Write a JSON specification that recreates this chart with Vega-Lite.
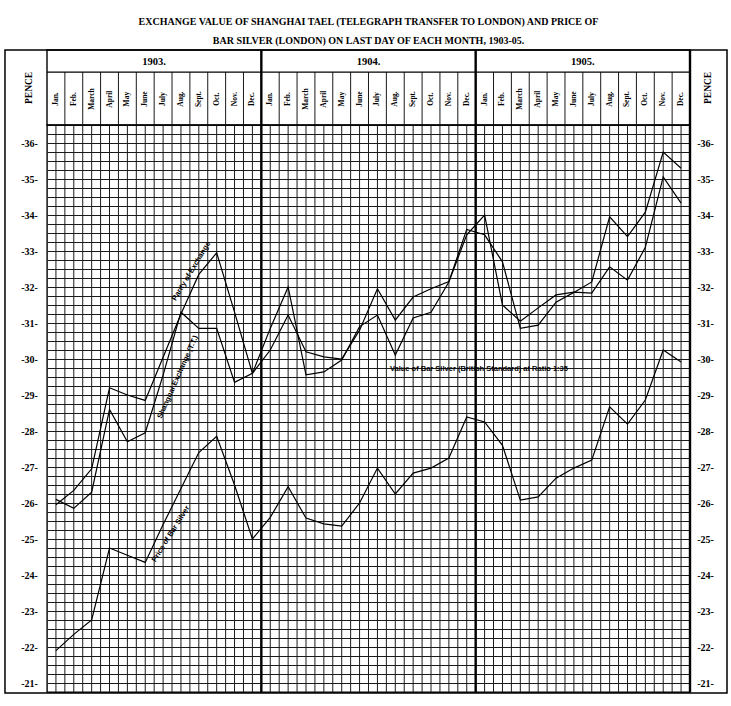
{
  "$schema": "https://vega.github.io/schema/vega-lite/v6.json",
  "width": 643,
  "height": 567,
  "autosize": {"type": "none"},
  "padding": {"left": 47, "top": 125, "right": 41, "bottom": 14},
  "background": "white",
  "config": {"view": {"stroke": "black", "strokeWidth": 1.4}, "text": {"font": "Liberation Serif", "color": "black"}},
  "datasets": {
    "months": [
      {"i": 0, "m": "Jan.", "yr": "1903."}, {"i": 1, "m": "Feb.", "yr": "1903."}, {"i": 2, "m": "March", "yr": "1903."}, {"i": 3, "m": "April", "yr": "1903."}, {"i": 4, "m": "May", "yr": "1903."}, {"i": 5, "m": "June", "yr": "1903."}, {"i": 6, "m": "July", "yr": "1903."}, {"i": 7, "m": "Aug.", "yr": "1903."}, {"i": 8, "m": "Sept.", "yr": "1903."}, {"i": 9, "m": "Oct.", "yr": "1903."}, {"i": 10, "m": "Nov.", "yr": "1903."}, {"i": 11, "m": "Dec.", "yr": "1903."},
      {"i": 12, "m": "Jan.", "yr": "1904."}, {"i": 13, "m": "Feb.", "yr": "1904."}, {"i": 14, "m": "March", "yr": "1904."}, {"i": 15, "m": "April", "yr": "1904."}, {"i": 16, "m": "May", "yr": "1904."}, {"i": 17, "m": "June", "yr": "1904."}, {"i": 18, "m": "July", "yr": "1904."}, {"i": 19, "m": "Aug.", "yr": "1904."}, {"i": 20, "m": "Sept.", "yr": "1904."}, {"i": 21, "m": "Oct.", "yr": "1904."}, {"i": 22, "m": "Nov.", "yr": "1904."}, {"i": 23, "m": "Dec.", "yr": "1904."},
      {"i": 24, "m": "Jan.", "yr": "1905."}, {"i": 25, "m": "Feb.", "yr": "1905."}, {"i": 26, "m": "March", "yr": "1905."}, {"i": 27, "m": "April", "yr": "1905."}, {"i": 28, "m": "May", "yr": "1905."}, {"i": 29, "m": "June", "yr": "1905."}, {"i": 30, "m": "July", "yr": "1905."}, {"i": 31, "m": "Aug.", "yr": "1905."}, {"i": 32, "m": "Sept.", "yr": "1905."}, {"i": 33, "m": "Oct.", "yr": "1905."}, {"i": 34, "m": "Nov.", "yr": "1905."}, {"i": 35, "m": "Dec.", "yr": "1905."}
    ],
    "lines": [
      {"s": "Parity of Exchange", "i": 0, "v": 25.95}, {"s": "Parity of Exchange", "i": 1, "v": 26.35}, {"s": "Parity of Exchange", "i": 2, "v": 26.95}, {"s": "Parity of Exchange", "i": 3, "v": 29.2}, {"s": "Parity of Exchange", "i": 4, "v": 29.0}, {"s": "Parity of Exchange", "i": 5, "v": 28.85}, {"s": "Parity of Exchange", "i": 6, "v": 30.05}, {"s": "Parity of Exchange", "i": 7, "v": 31.25}, {"s": "Parity of Exchange", "i": 8, "v": 32.35}, {"s": "Parity of Exchange", "i": 9, "v": 32.95}, {"s": "Parity of Exchange", "i": 10, "v": 31.3}, {"s": "Parity of Exchange", "i": 11, "v": 29.6},
      {"s": "Parity of Exchange", "i": 12, "v": 30.25}, {"s": "Parity of Exchange", "i": 13, "v": 31.22}, {"s": "Parity of Exchange", "i": 14, "v": 30.2}, {"s": "Parity of Exchange", "i": 15, "v": 30.06}, {"s": "Parity of Exchange", "i": 16, "v": 30.0}, {"s": "Parity of Exchange", "i": 17, "v": 30.8}, {"s": "Parity of Exchange", "i": 18, "v": 31.95}, {"s": "Parity of Exchange", "i": 19, "v": 31.08}, {"s": "Parity of Exchange", "i": 20, "v": 31.72}, {"s": "Parity of Exchange", "i": 21, "v": 31.95}, {"s": "Parity of Exchange", "i": 22, "v": 32.15}, {"s": "Parity of Exchange", "i": 23, "v": 33.6},
      {"s": "Parity of Exchange", "i": 24, "v": 33.45}, {"s": "Parity of Exchange", "i": 25, "v": 32.7}, {"s": "Parity of Exchange", "i": 26, "v": 30.85}, {"s": "Parity of Exchange", "i": 27, "v": 30.94}, {"s": "Parity of Exchange", "i": 28, "v": 31.58}, {"s": "Parity of Exchange", "i": 29, "v": 31.85}, {"s": "Parity of Exchange", "i": 30, "v": 32.14}, {"s": "Parity of Exchange", "i": 31, "v": 33.95}, {"s": "Parity of Exchange", "i": 32, "v": 33.4}, {"s": "Parity of Exchange", "i": 33, "v": 34.08}, {"s": "Parity of Exchange", "i": 34, "v": 35.75}, {"s": "Parity of Exchange", "i": 35, "v": 35.3},
      {"s": "Shanghai Exchange (T.T.)", "i": 0, "v": 26.1}, {"s": "Shanghai Exchange (T.T.)", "i": 1, "v": 25.85}, {"s": "Shanghai Exchange (T.T.)", "i": 2, "v": 26.3}, {"s": "Shanghai Exchange (T.T.)", "i": 3, "v": 28.6}, {"s": "Shanghai Exchange (T.T.)", "i": 4, "v": 27.7}, {"s": "Shanghai Exchange (T.T.)", "i": 5, "v": 27.95}, {"s": "Shanghai Exchange (T.T.)", "i": 6, "v": 29.55}, {"s": "Shanghai Exchange (T.T.)", "i": 7, "v": 31.3}, {"s": "Shanghai Exchange (T.T.)", "i": 8, "v": 30.85}, {"s": "Shanghai Exchange (T.T.)", "i": 9, "v": 30.85}, {"s": "Shanghai Exchange (T.T.)", "i": 10, "v": 29.35}, {"s": "Shanghai Exchange (T.T.)", "i": 11, "v": 29.6},
      {"s": "Shanghai Exchange (T.T.)", "i": 12, "v": 30.85}, {"s": "Shanghai Exchange (T.T.)", "i": 13, "v": 32.0}, {"s": "Shanghai Exchange (T.T.)", "i": 14, "v": 29.56}, {"s": "Shanghai Exchange (T.T.)", "i": 15, "v": 29.64}, {"s": "Shanghai Exchange (T.T.)", "i": 16, "v": 29.97}, {"s": "Shanghai Exchange (T.T.)", "i": 17, "v": 30.9}, {"s": "Shanghai Exchange (T.T.)", "i": 18, "v": 31.22}, {"s": "Shanghai Exchange (T.T.)", "i": 19, "v": 30.11}, {"s": "Shanghai Exchange (T.T.)", "i": 20, "v": 31.14}, {"s": "Shanghai Exchange (T.T.)", "i": 21, "v": 31.3}, {"s": "Shanghai Exchange (T.T.)", "i": 22, "v": 32.14}, {"s": "Shanghai Exchange (T.T.)", "i": 23, "v": 33.45},
      {"s": "Shanghai Exchange (T.T.)", "i": 24, "v": 34.0}, {"s": "Shanghai Exchange (T.T.)", "i": 25, "v": 31.5}, {"s": "Shanghai Exchange (T.T.)", "i": 26, "v": 31.05}, {"s": "Shanghai Exchange (T.T.)", "i": 27, "v": 31.42}, {"s": "Shanghai Exchange (T.T.)", "i": 28, "v": 31.78}, {"s": "Shanghai Exchange (T.T.)", "i": 29, "v": 31.86}, {"s": "Shanghai Exchange (T.T.)", "i": 30, "v": 31.83}, {"s": "Shanghai Exchange (T.T.)", "i": 31, "v": 32.56}, {"s": "Shanghai Exchange (T.T.)", "i": 32, "v": 32.19}, {"s": "Shanghai Exchange (T.T.)", "i": 33, "v": 33.1}, {"s": "Shanghai Exchange (T.T.)", "i": 34, "v": 35.06}, {"s": "Shanghai Exchange (T.T.)", "i": 35, "v": 34.33},
      {"s": "Price of Bar Silver", "i": 0, "v": 21.9}, {"s": "Price of Bar Silver", "i": 1, "v": 22.35}, {"s": "Price of Bar Silver", "i": 2, "v": 22.75}, {"s": "Price of Bar Silver", "i": 3, "v": 24.75}, {"s": "Price of Bar Silver", "i": 4, "v": 24.55}, {"s": "Price of Bar Silver", "i": 5, "v": 24.35}, {"s": "Price of Bar Silver", "i": 6, "v": 25.4}, {"s": "Price of Bar Silver", "i": 7, "v": 26.4}, {"s": "Price of Bar Silver", "i": 8, "v": 27.4}, {"s": "Price of Bar Silver", "i": 9, "v": 27.85}, {"s": "Price of Bar Silver", "i": 10, "v": 26.5}, {"s": "Price of Bar Silver", "i": 11, "v": 25.0},
      {"s": "Price of Bar Silver", "i": 12, "v": 25.6}, {"s": "Price of Bar Silver", "i": 13, "v": 26.45}, {"s": "Price of Bar Silver", "i": 14, "v": 25.58}, {"s": "Price of Bar Silver", "i": 15, "v": 25.42}, {"s": "Price of Bar Silver", "i": 16, "v": 25.36}, {"s": "Price of Bar Silver", "i": 17, "v": 26.0}, {"s": "Price of Bar Silver", "i": 18, "v": 26.97}, {"s": "Price of Bar Silver", "i": 19, "v": 26.25}, {"s": "Price of Bar Silver", "i": 20, "v": 26.83}, {"s": "Price of Bar Silver", "i": 21, "v": 26.97}, {"s": "Price of Bar Silver", "i": 22, "v": 27.25}, {"s": "Price of Bar Silver", "i": 23, "v": 28.39},
      {"s": "Price of Bar Silver", "i": 24, "v": 28.25}, {"s": "Price of Bar Silver", "i": 25, "v": 27.6}, {"s": "Price of Bar Silver", "i": 26, "v": 26.08}, {"s": "Price of Bar Silver", "i": 27, "v": 26.17}, {"s": "Price of Bar Silver", "i": 28, "v": 26.69}, {"s": "Price of Bar Silver", "i": 29, "v": 26.97}, {"s": "Price of Bar Silver", "i": 30, "v": 27.19}, {"s": "Price of Bar Silver", "i": 31, "v": 28.67}, {"s": "Price of Bar Silver", "i": 32, "v": 28.19}, {"s": "Price of Bar Silver", "i": 33, "v": 28.86}, {"s": "Price of Bar Silver", "i": 34, "v": 30.25}, {"s": "Price of Bar Silver", "i": 35, "v": 29.92}
    ]
  },
  "layer": [
    {
      "data": {"name": "months"},
      "mark": {"type": "rule", "color": "#1a1a1a", "strokeWidth": 1},
      "encoding": {
        "x": {"field": "i", "type": "quantitative", "scale": {"domain": [-0.5, 35.5], "nice": false, "zero": false}, "axis": null},
        "y": {"datum": 20.75, "type": "quantitative", "scale": {"domain": [20.75, 36.5], "nice": false, "zero": false}, "axis": null},
        "y2": {"datum": 36.5}
      }
    },
    {
      "data": {"name": "months"},
      "mark": {"type": "rule", "color": "#1a1a1a", "strokeWidth": 1, "xOffset": 8.93},
      "encoding": {
        "x": {"field": "i", "type": "quantitative", "scale": {"domain": [-0.5, 35.5], "nice": false, "zero": false}, "axis": null},
        "y": {"datum": 20.75, "type": "quantitative", "scale": {"domain": [20.75, 36.5], "nice": false, "zero": false}, "axis": null},
        "y2": {"datum": 37.97}
      }
    },
    {
      "data": {"name": "lines"},
      "transform": [{"filter": {"field": "s", "oneOf": ["Parity of Exchange", "Shanghai Exchange (T.T.)"]}}],
      "mark": {"type": "line", "color": "black", "strokeWidth": 1.2},
      "encoding": {
        "x": {"field": "i", "type": "quantitative", "scale": {"domain": [-0.5, 35.5], "nice": false, "zero": false}, "axis": null},
        "y": {"field": "v", "type": "quantitative", "scale": {"domain": [20.75, 36.5], "nice": false, "zero": false},
          "axis": {"orient": "left", "values": [20.75,21,21.25,21.5,21.75,22,22.25,22.5,22.75,23,23.25,23.5,23.75,24,24.25,24.5,24.75,25,25.25,25.5,25.75,26,26.25,26.5,26.75,27,27.25,27.5,27.75,28,28.25,28.5,28.75,29,29.25,29.5,29.75,30,30.25,30.5,30.75,31,31.25,31.5,31.75,32,32.25,32.5,32.75,33,33.25,33.5,33.75,34,34.25,34.5,34.75,35,35.25,35.5,35.75,36,36.25,36.5],
            "grid": true, "gridColor": "#1a1a1a", "gridWidth": 1, "gridOpacity": 1, "ticks": false, "domain": false, "title": null,
            "labelExpr": "datum.value % 1 === 0 ? '-' + datum.value + '-' : ''", "labelOverlap": false, "labelBound": false, "labelFlush": false,
            "labelPadding": 18, "labelAlign": "center", "labelBaseline": "middle", "labelFont": "Liberation Serif", "labelFontSize": 10, "labelFontWeight": "bold", "labelColor": "black"}},
        "detail": {"field": "s"}
      }
    },
    {
      "data": {"name": "lines"},
      "transform": [{"filter": {"field": "s", "equal": "Price of Bar Silver"}}],
      "mark": {"type": "line", "color": "black", "strokeWidth": 1.2},
      "encoding": {
        "x": {"field": "i", "type": "quantitative", "scale": {"domain": [-0.5, 35.5], "nice": false, "zero": false}, "axis": null},
        "y": {"field": "v", "type": "quantitative", "scale": {"domain": [20.75, 36.5], "nice": false, "zero": false},
          "axis": {"orient": "right", "values": [21,22,23,24,25,26,27,28,29,30,31,32,33,34,35,36], "grid": false, "ticks": false, "domain": false, "title": null,
            "labelExpr": "'-' + datum.value + '-'", "labelOverlap": false, "labelBound": false, "labelFlush": false,
            "labelPadding": 15, "labelAlign": "center", "labelBaseline": "middle", "labelFont": "Liberation Serif", "labelFontSize": 10, "labelFontWeight": "bold", "labelColor": "black"}}
      }
    },
    {
      "data": {"values": [{}]},
      "mark": {"type": "rect", "filled": false, "color": "black", "strokeWidth": 1.5},
      "encoding": {
        "x": {"datum": -2.852, "type": "quantitative", "scale": {"domain": [-0.5, 35.5], "nice": false, "zero": false}, "axis": null},
        "x2": {"datum": 37.572},
        "y": {"datum": 20.72, "type": "quantitative", "scale": {"domain": [20.75, 36.5], "nice": false, "zero": false}, "axis": null},
        "y2": {"datum": 38.583}
      }
    },
    {
      "data": {"values": [{}]},
      "mark": {"type": "rect", "filled": false, "color": "black", "strokeWidth": 1.4},
      "encoding": {
        "x": {"datum": -0.5, "type": "quantitative", "scale": {"domain": [-0.5, 35.5], "nice": false, "zero": false}, "axis": null},
        "x2": {"datum": 35.5},
        "y": {"datum": 36.5, "type": "quantitative", "scale": {"domain": [20.75, 36.5], "nice": false, "zero": false}, "axis": null},
        "y2": {"datum": 38.583}
      }
    },
    {
      "data": {"values": [{}]},
      "mark": {"type": "rule", "color": "black", "strokeWidth": 1.2},
      "encoding": {
        "x": {"datum": -0.5, "type": "quantitative", "scale": {"domain": [-0.5, 35.5], "nice": false, "zero": false}, "axis": null},
        "x2": {"datum": 35.5},
        "y": {"datum": 37.97, "type": "quantitative", "scale": {"domain": [20.75, 36.5], "nice": false, "zero": false}, "axis": null}
      }
    },
    {
      "data": {"name": "months"},
      "transform": [{"filter": {"field": "m", "equal": "Dec."}}],
      "mark": {"type": "rule", "color": "black", "strokeWidth": 2.4, "xOffset": 8.93},
      "encoding": {
        "x": {"field": "i", "type": "quantitative", "scale": {"domain": [-0.5, 35.5], "nice": false, "zero": false}, "axis": null},
        "y": {"datum": 20.75, "type": "quantitative", "scale": {"domain": [20.75, 36.5], "nice": false, "zero": false}, "axis": null},
        "y2": {"datum": 38.583}
      }
    },
    {
      "data": {"name": "months"},
      "mark": {"type": "text", "angle": 270, "font": "Liberation Serif", "fontWeight": "bold", "fontSize": 7.5, "align": "center", "baseline": "middle", "color": "black"},
      "encoding": {
        "x": {"field": "i", "type": "quantitative", "scale": {"domain": [-0.5, 35.5], "nice": false, "zero": false}, "axis": null},
        "y": {"datum": 37.22, "type": "quantitative", "scale": {"domain": [20.75, 36.5], "nice": false, "zero": false}, "axis": null},
        "text": {"field": "m"}
      }
    },
    {
      "data": {"name": "months"},
      "mark": {"type": "text", "font": "Liberation Serif", "fontWeight": "bold", "fontSize": 10.5, "align": "center", "baseline": "middle", "color": "black"},
      "encoding": {
        "x": {"aggregate": "mean", "field": "i", "type": "quantitative", "scale": {"domain": [-0.5, 35.5], "nice": false, "zero": false}, "axis": null},
        "y": {"datum": 38.25, "type": "quantitative", "scale": {"domain": [20.75, 36.5], "nice": false, "zero": false}, "axis": null},
        "text": {"field": "yr"}
      }
    },
    {
      "data": {"values": [{}]},
      "mark": {"type": "text", "text": "PENCE", "angle": 270, "font": "Liberation Serif", "fontWeight": "bold", "fontSize": 9.5, "align": "center", "baseline": "middle", "color": "black"},
      "encoding": {
        "x": {"datum": -1.51, "type": "quantitative", "scale": {"domain": [-0.5, 35.5], "nice": false, "zero": false}, "axis": null},
        "y": {"datum": 37.53, "type": "quantitative", "scale": {"domain": [20.75, 36.5], "nice": false, "zero": false}, "axis": null}
      }
    },
    {
      "data": {"values": [{}]},
      "mark": {"type": "text", "text": "PENCE", "angle": 270, "font": "Liberation Serif", "fontWeight": "bold", "fontSize": 9.5, "align": "center", "baseline": "middle", "color": "black"},
      "encoding": {
        "x": {"datum": 36.51, "type": "quantitative", "scale": {"domain": [-0.5, 35.5], "nice": false, "zero": false}, "axis": null},
        "y": {"datum": 37.53, "type": "quantitative", "scale": {"domain": [20.75, 36.5], "nice": false, "zero": false}, "axis": null}
      }
    },
    {
      "data": {"values": [{}]},
      "mark": {"type": "text", "text": "EXCHANGE VALUE OF SHANGHAI TAEL (TELEGRAPH TRANSFER TO LONDON) AND PRICE OF", "font": "Liberation Serif", "fontWeight": "bold", "fontSize": 10, "align": "center", "baseline": "middle", "color": "black"},
      "encoding": {
        "x": {"datum": 17.5, "type": "quantitative", "scale": {"domain": [-0.5, 35.5], "nice": false, "zero": false}, "axis": null},
        "y": {"datum": 39.36, "type": "quantitative", "scale": {"domain": [20.75, 36.5], "nice": false, "zero": false}, "axis": null}
      }
    },
    {
      "data": {"values": [{}]},
      "mark": {"type": "text", "text": "BAR SILVER (LONDON) ON LAST DAY OF EACH MONTH, 1903-05.", "font": "Liberation Serif", "fontWeight": "bold", "fontSize": 10, "align": "center", "baseline": "middle", "color": "black"},
      "encoding": {
        "x": {"datum": 17.5, "type": "quantitative", "scale": {"domain": [-0.5, 35.5], "nice": false, "zero": false}, "axis": null},
        "y": {"datum": 38.83, "type": "quantitative", "scale": {"domain": [20.75, 36.5], "nice": false, "zero": false}, "axis": null}
      }
    },
    {
      "data": {"values": [{}]},
      "mark": {"type": "text", "text": "Parity of Exchange", "angle": 301, "font": "Liberation Sans", "fontWeight": "bold", "fontSize": 7.5, "align": "center", "baseline": "middle", "color": "black"},
      "encoding": {
        "x": {"datum": 7.59, "type": "quantitative", "scale": {"domain": [-0.5, 35.5], "nice": false, "zero": false}, "axis": null},
        "y": {"datum": 32.44, "type": "quantitative", "scale": {"domain": [20.75, 36.5], "nice": false, "zero": false}, "axis": null}
      }
    },
    {
      "data": {"values": [{}]},
      "mark": {"type": "text", "text": "Shanghai Exchange (T.T.)", "angle": 294, "font": "Liberation Sans", "fontWeight": "bold", "fontSize": 7.5, "align": "center", "baseline": "middle", "color": "black"},
      "encoding": {
        "x": {"datum": 6.83, "type": "quantitative", "scale": {"domain": [-0.5, 35.5], "nice": false, "zero": false}, "axis": null},
        "y": {"datum": 29.5, "type": "quantitative", "scale": {"domain": [20.75, 36.5], "nice": false, "zero": false}, "axis": null}
      }
    },
    {
      "data": {"values": [{}]},
      "mark": {"type": "text", "text": "Price of Bar Silver", "angle": 302, "font": "Liberation Sans", "fontWeight": "bold", "fontSize": 7.5, "align": "center", "baseline": "middle", "color": "black"},
      "encoding": {
        "x": {"datum": 6.44, "type": "quantitative", "scale": {"domain": [-0.5, 35.5], "nice": false, "zero": false}, "axis": null},
        "y": {"datum": 25.14, "type": "quantitative", "scale": {"domain": [20.75, 36.5], "nice": false, "zero": false}, "axis": null}
      }
    },
    {
      "data": {"values": [{}]},
      "mark": {"type": "text", "text": "Value of Bar Silver (British Standard) at Ratio 1:35", "font": "Liberation Sans", "fontWeight": "bold", "fontSize": 7.5, "align": "left", "baseline": "middle", "color": "black"},
      "encoding": {
        "x": {"datum": 18.7, "type": "quantitative", "scale": {"domain": [-0.5, 35.5], "nice": false, "zero": false}, "axis": null},
        "y": {"datum": 29.72, "type": "quantitative", "scale": {"domain": [20.75, 36.5], "nice": false, "zero": false}, "axis": null}
      }
    }
  ],
  "resolve": {"axis": {"y": "independent"}}
}
